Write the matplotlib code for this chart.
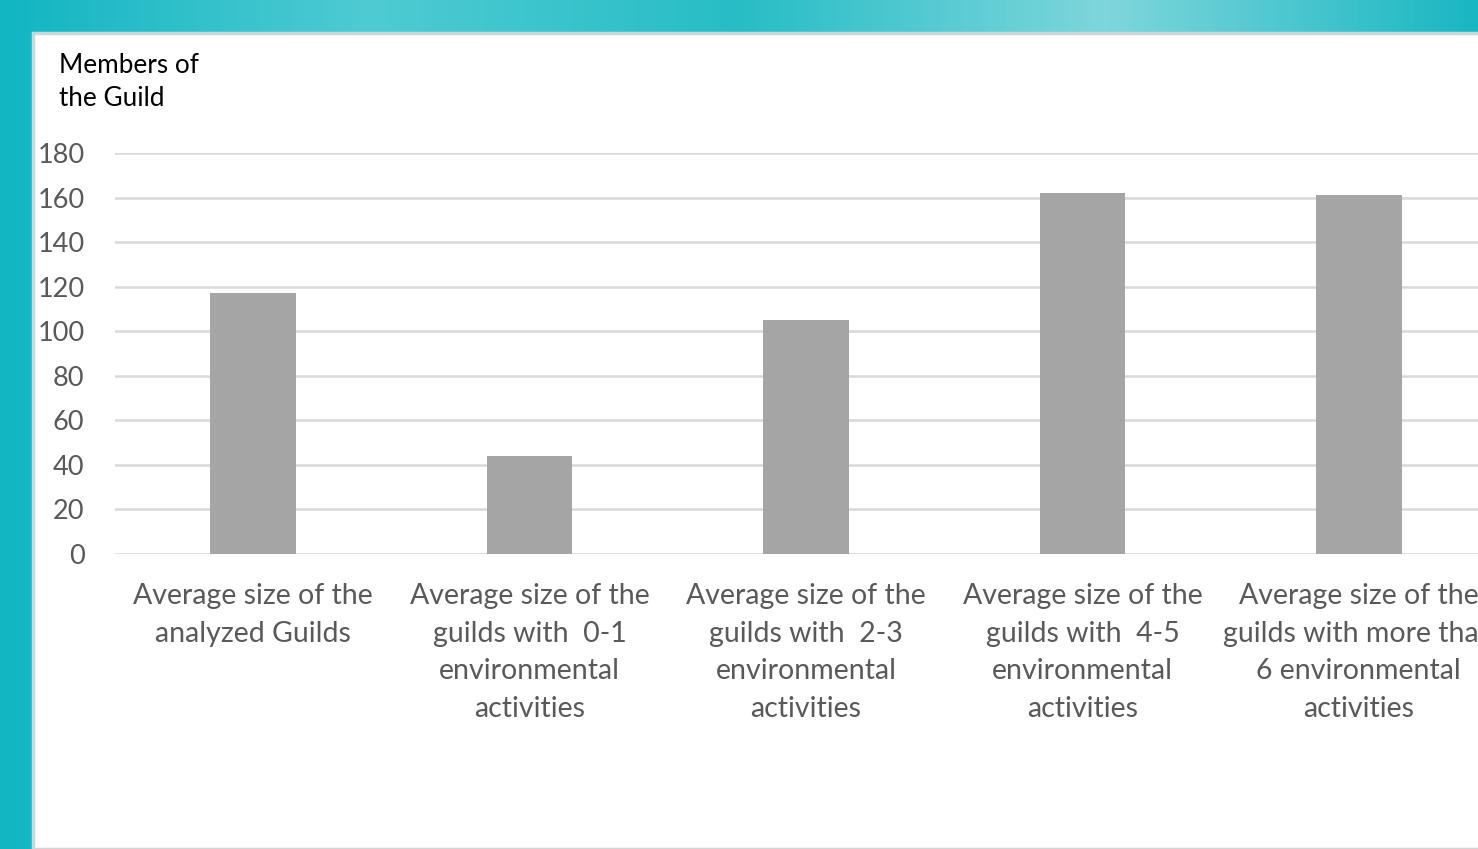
import matplotlib.pyplot as plt
import matplotlib.patches as patches
from matplotlib.colors import LinearSegmentedColormap
import numpy as np

# data
categories = [
    'Average size of the\nanalyzed Guilds',
    'Average size of the\nguilds with  0-1\nenvironmental\nactivities',
    'Average size of the\nguilds with  2-3\nenvironmental\nactivities',
    'Average size of the\nguilds with  4-5\nenvironmental\nactivities',
    'Average size of the\nguilds with more than\n6 environmental\nactivities',
]
members = [117, 44, 105, 162, 161]
yticks = [0, 20, 40, 60, 80, 100, 120, 140, 160, 180]

W, H = 1478, 849
fig = plt.figure(figsize=(W / 100, H / 100), dpi=100)
plt.rcParams['font.family'] = ['Lato', 'DejaVu Sans']

# watery teal backdrop
bg = fig.add_axes([0, 0, 1, 1])
bg.set_axis_off()
water = LinearSegmentedColormap.from_list('water', ['#12b5c2', '#4fcbd3', '#27bdc6', '#7fd6dc', '#19b7c3'])
grad = np.linspace(0, 1, 256).reshape(1, -1)
bg.imshow(grad, aspect='auto', cmap=water, extent=[0, 1, 0, 1])
bg.add_patch(patches.Rectangle((33 / W, 0), 1, 1 - 33 / H, transform=bg.transAxes,
                               facecolor='white', edgecolor='#d4d4d4', linewidth=2.5))
bg.set_xlim(0, 1)
bg.set_ylim(0, 1)

# chart axes (runs a little past the right edge, as in the original)
ax = fig.add_axes([115 / W, 295 / H, 1382 / W, 401 / H])
ax.set_facecolor('none')
x = np.arange(len(categories))
ax.bar(x, members, width=0.31, color='#a5a5a5', zorder=3)
ax.set_xlim(-0.5, 4.5)
ax.set_ylim(0, 180)
ax.set_yticks(yticks)
ax.yaxis.grid(True, color='#d9d9d9', linewidth=1.8, zorder=0)
ax.set_axisbelow(True)
for s in ax.spines.values():
    s.set_visible(False)
ax.set_xticks(x)
ax.set_xticklabels(categories, fontsize=20.5, color='#595959', linespacing=1.55)
ax.tick_params(axis='x', length=0, pad=21)
ax.tick_params(axis='y', length=0, pad=22, labelsize=19.5, labelcolor='#595959')

fig.text(59 / W, 1 - 53 / H, 'Members of\nthe Guild', fontsize=18.8, color='black',
         va='top', ha='left', linespacing=1.39)

fig.savefig('out.png', dpi=100)
